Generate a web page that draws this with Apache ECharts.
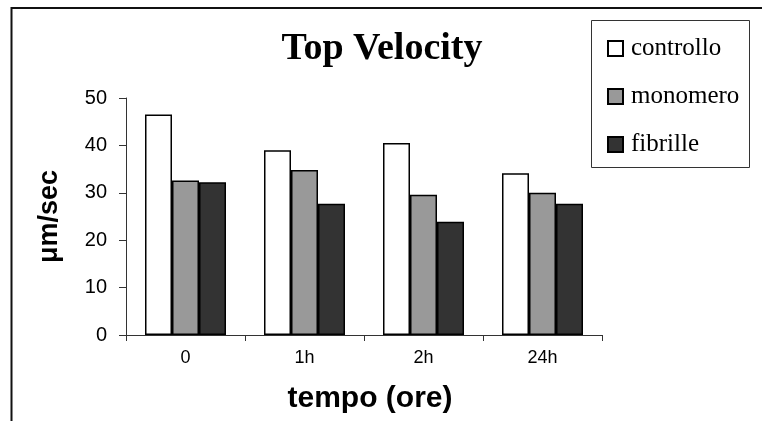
<!DOCTYPE html>
<html>
<head>
<meta charset="utf-8">
<script src="https://cdn.jsdelivr.net/npm/echarts@6/dist/echarts.min.js"></script>
<style>
  html, body { margin: 0; padding: 0; background: #ffffff; }
  #chart { width: 762px; height: 421px; }
</style>
</head>
<body>
<div id="chart"></div>
<script>
// Time points (hours after treatment)
const categories = ['0', '1h', '2h', '24h'];

// Top velocity per condition, µm/sec
const controllo = [46.5, 39.0, 40.5, 34.1];
const monomero = [32.6, 34.8, 29.6, 30.0];
const fibrille = [32.2, 27.7, 23.9, 27.7];

const seriesNames = ['controllo', 'monomero', 'fibrille'];
const seriesColors = ['#ffffff', '#999999', '#333333'];

const yTicks = { min: 0, max: 50, interval: 10 };

const chart = echarts.init(document.getElementById('chart'), null, { renderer: 'canvas' });

const barStyle = (color) => ({
  color: color,
  borderColor: '#000000',
  borderWidth: 1.5
});

chart.setOption({
  animation: false,
  backgroundColor: '#ffffff',
  title: {
    text: 'Top Velocity',
    left: 377,
    textAlign: 'center',
    top: 25,
    textStyle: {
      fontFamily: '"Liberation Serif", "Times New Roman", serif',
      fontWeight: 'bold',
      fontSize: 38,
      color: '#000000'
    }
  },
  legend: {
    orient: 'vertical',
    left: 591,
    top: 20,
    padding: [16, 10, 10, 16],
    itemWidth: 15,
    itemHeight: 15,
    itemGap: 23,
    icon: 'rect',
    textStyle: {
      fontFamily: '"Liberation Serif", "Times New Roman", serif',
      fontSize: 25,
      lineHeight: 22,
      color: '#000000',
      padding: [0, 0, 0, 3]
    },
    data: seriesNames
  },
  grid: {
    left: 126,
    right: 160,
    top: 98,
    bottom: 86,
    containLabel: false,
    outerBoundsMode: 'none'
  },
  xAxis: {
    type: 'category',
    data: categories,
    name: 'tempo (ore)',
    nameLocation: 'middle',
    nameGap: 49,
    nameTextStyle: {
      fontFamily: 'Arial, "Liberation Sans", sans-serif',
      fontWeight: 'bold',
      fontSize: 30,
      color: '#000000',
      padding: [0, 0, 0, 12]
    },
    axisLine: { lineStyle: { color: '#333333', width: 1 } },
    axisTick: { show: true, alignWithLabel: false, length: 6, lineStyle: { color: '#333333' } },
    axisLabel: {
      margin: 14,
      fontFamily: 'Arial, "Liberation Sans", sans-serif',
      fontSize: 18,
      color: '#000000'
    },
    splitLine: { show: false }
  },
  yAxis: {
    type: 'value',
    min: yTicks.min,
    max: yTicks.max,
    interval: yTicks.interval,
    name: 'μm/sec',
    nameLocation: 'middle',
    nameRotate: 90,
    nameGap: 63,
    nameTextStyle: {
      fontFamily: 'Arial, "Liberation Sans", sans-serif',
      fontWeight: 'bold',
      fontSize: 27,
      color: '#000000'
    },
    axisLine: { show: true, lineStyle: { color: '#333333', width: 1 } },
    axisTick: { show: true, inside: false, length: 7, lineStyle: { color: '#333333' } },
    axisLabel: {
      margin: 19,
      fontFamily: 'Arial, "Liberation Sans", sans-serif',
      fontSize: 20,
      color: '#000000'
    },
    splitLine: { show: false }
  },
  series: [
    { name: seriesNames[0], type: 'bar', data: controllo, barWidth: 27, barGap: '0%', itemStyle: barStyle(seriesColors[0]) },
    { name: seriesNames[1], type: 'bar', data: monomero, barWidth: 27, barGap: '0%', itemStyle: barStyle(seriesColors[1]) },
    { name: seriesNames[2], type: 'bar', data: fibrille, barWidth: 27, barGap: '0%', itemStyle: barStyle(seriesColors[2]) }
  ],
  graphic: [
    {
      // outer frame (top and left edges)
      type: 'polyline',
      shape: { points: [[11.5, 421], [11.5, 8], [762, 8]] },
      style: { stroke: '#111111', lineWidth: 2, fill: null },
      silent: true
    },
    {
      // legend box
      type: 'rect',
      shape: { x: 591.5, y: 20.5, width: 158, height: 147 },
      style: { stroke: '#333333', lineWidth: 1, fill: null },
      silent: true
    }
  ]
});
</script>
</body>
</html>
